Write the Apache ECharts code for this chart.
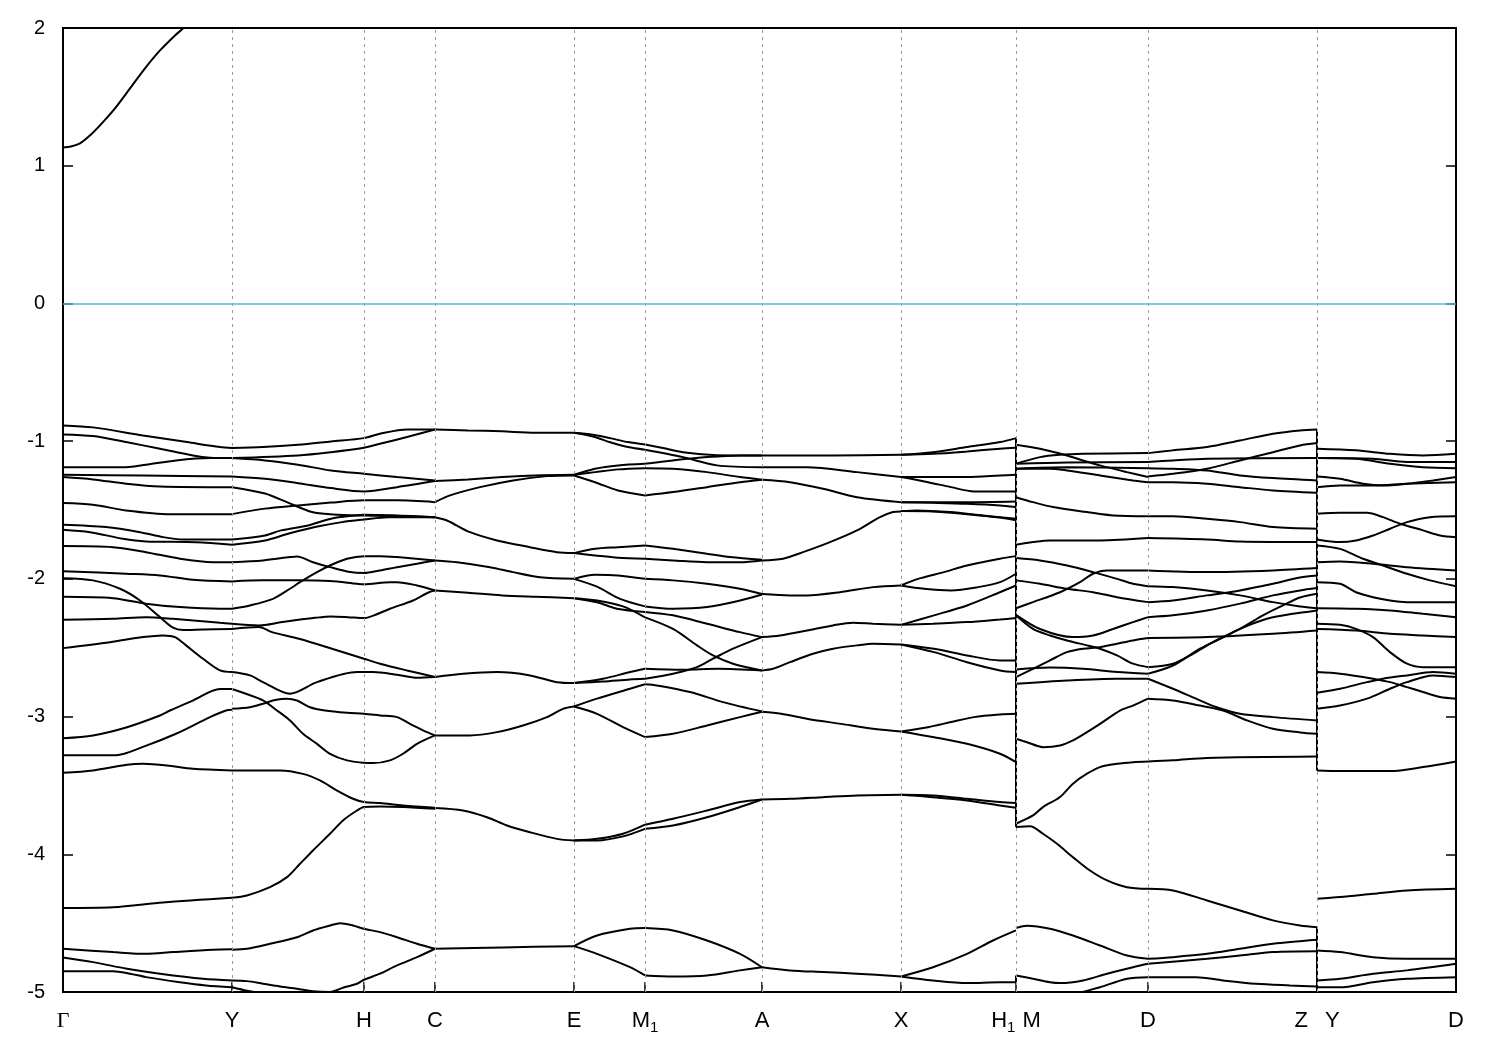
<!DOCTYPE html>
<html><head><meta charset="utf-8">
<script src="https://cdn.jsdelivr.net/npm/echarts@6/dist/echarts.min.js"></script>
<style>html,body{margin:0;padding:0;background:#fff}#c{width:1500px;height:1050px}</style>
</head><body><div id="c"></div>
<script>
// k-path positions of the high-symmetry points and their labels
const kTicks = [0,169,301,372,511,582,699,838,953,1085,1254,1393];
const kLabels = ['Γ','Y','H','C','E','M₁','A','X','H₁|M','D','Z|Y','D'];
const energyMin = -5, energyMax = 2, energyStep = 1;
const fermiLevel = 0;

// conduction band
const conduction = [[0,1.133],[8,1.14],[17,1.162],[27,1.22],[37,1.293],[52,1.416],[67,1.561],[82,1.707],[97,1.837],[112,1.946],[120,1.997],[135,2.12]];

// valence bands, segment Γ -> Y
const pathGY = [
 [[0,-0.886],[30,-0.90],[80,-0.959],[124,-1.007],[157,-1.043],[169,-1.05]],
 [[0,-0.951],[30,-0.963],[63,-1.007],[97,-1.055],[130,-1.104],[147,-1.12],[169,-1.123]],
 [[0,-1.189],[63,-1.189],[83,-1.171],[113,-1.14],[147,-1.123],[169,-1.123]],
 [[0,-1.244],[80,-1.25],[169,-1.256]],
 [[0,-1.261],[30,-1.278],[63,-1.309],[97,-1.329],[169,-1.334]],
 [[0,-1.45],[30,-1.462],[63,-1.503],[107,-1.53],[169,-1.53]],
 [[0,-1.607],[43,-1.624],[77,-1.661],[100,-1.697],[120,-1.714],[169,-1.714]],
 [[0,-1.643],[27,-1.661],[60,-1.709],[83,-1.728],[133,-1.734],[169,-1.752]],
 [[0,-1.762],[50,-1.77],[83,-1.806],[117,-1.854],[150,-1.879],[169,-1.879]],
 [[0,-1.944],[63,-1.963],[97,-1.975],[130,-2.007],[169,-2.019]],
 [[0,-1.995],[30,-2.011],[57,-2.072],[77,-2.157],[97,-2.278],[110,-2.355],[120,-2.372],[140,-2.368],[169,-2.364]],
 [[0,-2.13],[50,-2.14],[83,-2.18],[117,-2.205],[157,-2.217],[169,-2.217]],
 [[0,-2.297],[50,-2.29],[83,-2.278],[110,-2.29],[157,-2.319],[169,-2.326]],
 [[0,-2.503],[47,-2.46],[80,-2.423],[100,-2.411],[112,-2.423],[123,-2.483],[140,-2.58],[157,-2.665],[169,-2.677]],
 [[0,-3.157],[30,-3.137],[64,-3.077],[97,-2.992],[107,-2.956],[130,-2.883],[157,-2.80],[169,-2.80]],
 [[0,-3.28],[53,-3.28],[80,-3.22],[113,-3.125],[147,-3.004],[163,-2.956],[169,-2.951]],
 [[0,-3.408],[30,-3.391],[64,-3.35],[80,-3.343],[104,-3.355],[130,-3.379],[169,-3.391]],
 [[0,-4.39],[50,-4.385],[100,-4.35],[169,-4.316]],
 [[0,-4.686],[50,-4.71],[83,-4.723],[110,-4.71],[150,-4.693],[169,-4.69]],
 [[0,-4.75],[30,-4.783],[64,-4.831],[97,-4.867],[140,-4.904],[169,-4.916]],
 [[0,-4.849],[50,-4.849],[67,-4.867],[83,-4.892],[117,-4.929],[143,-4.952],[169,-4.965]]
];

// segment Y -> H -> C
const pathYC = [
 [[169,-1.05],[200,-1.043],[235,-1.026],[268,-1.002],[301,-0.978],[317,-0.946],[344,-0.915],[372,-0.915]],
 [[169,-1.123],[235,-1.104],[268,-1.08],[301,-1.048],[317,-1.019],[344,-0.97],[372,-0.915]],
 [[169,-1.123],[202,-1.14],[235,-1.171],[268,-1.213],[301,-1.237],[334,-1.261],[372,-1.285]],
 [[169,-1.256],[202,-1.273],[235,-1.305],[268,-1.341],[301,-1.365],[334,-1.334],[372,-1.29]],
 [[169,-1.334],[202,-1.38],[225,-1.446],[249,-1.515],[270,-1.532],[301,-1.54],[372,-1.552]],
 [[169,-1.53],[202,-1.49],[235,-1.467],[268,-1.446],[301,-1.43],[334,-1.43],[372,-1.443]],
 [[169,-1.714],[202,-1.685],[218,-1.648],[245,-1.612],[268,-1.563],[292,-1.54],[301,-1.535],[372,-1.552]],
 [[169,-1.752],[202,-1.721],[225,-1.673],[252,-1.624],[279,-1.588],[301,-1.569],[325,-1.552],[372,-1.552]],
 [[169,-1.879],[200,-1.866],[227,-1.842],[234,-1.837],[250,-1.879],[267,-1.915],[287,-1.951],[301,-1.958],[317,-1.939],[334,-1.915],[354,-1.89],[372,-1.866]],
 [[169,-2.019],[200,-2.011],[234,-2.011],[267,-2.016],[294,-2.036],[301,-2.04],[327,-2.024],[334,-2.024],[354,-2.048],[372,-2.084]],
 [[169,-2.217],[187,-2.193],[210,-2.145],[227,-2.072],[237,-2.024],[254,-1.951],[267,-1.903],[284,-1.854],[301,-1.835],[317,-1.835],[334,-1.842],[372,-1.866]],
 [[169,-2.326],[196,-2.338],[219,-2.314],[252,-2.283],[268,-2.273],[285,-2.278],[301,-2.285],[311,-2.265],[327,-2.217],[350,-2.157],[366,-2.097],[372,-2.085]],
 [[169,-2.364],[196,-2.35],[209,-2.387],[236,-2.435],[269,-2.507],[301,-2.58],[317,-2.616],[344,-2.665],[372,-2.713]],
 [[169,-2.677],[187,-2.701],[200,-2.75],[227,-2.834],[254,-2.75],[294,-2.677],[310,-2.677],[334,-2.696],[354,-2.718],[372,-2.713]],
 [[169,-2.80],[185,-2.84],[200,-2.883],[214,-2.956],[227,-3.028],[240,-3.125],[254,-3.198],[267,-3.27],[284,-3.318],[301,-3.336],[310,-3.338],[327,-3.318],[340,-3.27],[354,-3.198],[372,-3.137]],
 [[169,-2.944],[187,-2.932],[200,-2.907],[212,-2.88],[224,-2.87],[234,-2.883],[247,-2.932],[262,-2.956],[284,-2.973],[301,-2.98],[317,-2.992],[334,-3.004],[347,-3.053],[360,-3.1],[372,-3.137]],
 [[169,-3.391],[217,-3.391],[240,-3.416],[257,-3.464],[274,-3.537],[290,-3.597],[301,-3.621],[317,-3.628],[340,-3.645],[372,-3.662]],
 [[169,-4.316],[184,-4.299],[207,-4.239],[224,-4.166],[237,-4.069],[250,-3.972],[267,-3.851],[280,-3.754],[294,-3.682],[301,-3.657],[317,-3.653],[340,-3.657],[372,-3.67]],
 [[169,-4.693],[184,-4.686],[207,-4.65],[234,-4.602],[250,-4.553],[267,-4.517],[277,-4.5],[290,-4.517],[301,-4.541],[317,-4.565],[334,-4.602],[354,-4.65],[372,-4.686]],
 [[169,-4.916],[184,-4.921],[200,-4.94],[217,-4.96],[234,-4.976],[250,-4.994],[267,-5.0],[280,-4.969],[294,-4.94],[301,-4.911],[317,-4.867],[334,-4.807],[354,-4.747],[372,-4.686]],
 [[169,-4.965],[184,-4.99],[200,-5.01],[234,-5.04],[280,-5.05]]
];

// segment C -> E
const pathCE = [
 [[372,-0.915],[405,-0.922],[439,-0.929],[472,-0.939],[511,-0.939]],
 [[372,-1.29],[405,-1.278],[439,-1.261],[472,-1.249],[511,-1.244]],
 [[372,-1.443],[387,-1.394],[417,-1.334],[450,-1.285],[484,-1.254],[511,-1.249]],
 [[372,-1.552],[384,-1.576],[407,-1.661],[434,-1.721],[467,-1.77],[494,-1.806],[511,-1.813]],
 [[372,-1.866],[394,-1.879],[427,-1.915],[450,-1.951],[477,-1.988],[511,-2.0]],
 [[372,-2.085],[405,-2.101],[439,-2.12],[472,-2.13],[511,-2.14]],
 [[372,-2.713],[400,-2.689],[434,-2.677],[467,-2.701],[494,-2.75],[511,-2.756]],
 [[372,-3.137],[407,-3.137],[434,-3.113],[460,-3.065],[484,-3.004],[500,-2.944],[511,-2.927]],
 [[372,-3.664],[400,-3.682],[424,-3.731],[444,-3.791],[467,-3.84],[494,-3.888],[511,-3.9]],
 [[372,-4.686],[440,-4.676],[511,-4.667]]
];

// segment E -> M1
const pathEM = [
 [[511,-0.939],[530,-0.954],[548,-0.98],[565,-1.007],[582,-1.024]],
 [[511,-0.939],[530,-0.966],[548,-1.01],[565,-1.043],[582,-1.062]],
 [[511,-1.244],[532,-1.2],[555,-1.176],[582,-1.164]],
 [[511,-1.244],[532,-1.225],[555,-1.205],[582,-1.196]],
 [[511,-1.249],[532,-1.298],[555,-1.358],[582,-1.394]],
 [[511,-1.813],[532,-1.782],[555,-1.77],[582,-1.757]],
 [[511,-1.813],[532,-1.83],[555,-1.847],[582,-1.854]],
 [[511,-2.0],[532,-1.97],[555,-1.975],[582,-2.0]],
 [[511,-2.0],[534,-2.057],[557,-2.145],[582,-2.2]],
 [[511,-2.14],[534,-2.17],[554,-2.217],[582,-2.24]],
 [[511,-2.14],[534,-2.157],[560,-2.2],[582,-2.28]],
 [[511,-2.756],[540,-2.725],[567,-2.677],[582,-2.653]],
 [[511,-2.756],[540,-2.745],[567,-2.73],[582,-2.725]],
 [[511,-2.927],[534,-2.87],[567,-2.798],[582,-2.765]],
 [[511,-2.927],[534,-2.98],[560,-3.077],[582,-3.149]],
 [[511,-3.9],[534,-3.888],[560,-3.851],[582,-3.785]],
 [[511,-3.9],[534,-3.9],[560,-3.87],[582,-3.815]],
 [[511,-4.667],[534,-4.59],[567,-4.541],[582,-4.536]],
 [[511,-4.667],[534,-4.723],[567,-4.82],[582,-4.88]]
];

// segment M1 -> A
const pathMA = [
 [[582,-1.024],[600,-1.05],[620,-1.08],[650,-1.1],[699,-1.104]],
 [[582,-1.062],[620,-1.116],[654,-1.176],[699,-1.19]],
 [[582,-1.164],[610,-1.14],[644,-1.116],[677,-1.104],[699,-1.104]],
 [[582,-1.196],[610,-1.2],[644,-1.225],[677,-1.261],[699,-1.28]],
 [[582,-1.394],[610,-1.37],[644,-1.334],[677,-1.298],[699,-1.28]],
 [[582,-1.757],[610,-1.782],[644,-1.818],[667,-1.842],[699,-1.862]],
 [[582,-1.854],[610,-1.866],[644,-1.879],[677,-1.879],[699,-1.866]],
 [[582,-2.0],[610,-2.011],[644,-2.036],[677,-2.072],[699,-2.11]],
 [[582,-2.2],[610,-2.217],[644,-2.205],[677,-2.157],[699,-2.113]],
 [[582,-2.24],[610,-2.265],[644,-2.326],[677,-2.387],[699,-2.423]],
 [[582,-2.28],[610,-2.364],[634,-2.483],[650,-2.556],[670,-2.616],[699,-2.665]],
 [[582,-2.725],[610,-2.689],[634,-2.641],[650,-2.58],[670,-2.507],[699,-2.423]],
 [[582,-2.653],[620,-2.66],[655,-2.653],[699,-2.665]],
 [[582,-2.765],[594,-2.774],[627,-2.822],[660,-2.895],[699,-2.963]],
 [[582,-3.149],[610,-3.125],[644,-3.065],[677,-3.004],[699,-2.965]],
 [[582,-3.785],[610,-3.742],[644,-3.682],[677,-3.621],[699,-3.602]],
 [[582,-3.815],[610,-3.791],[644,-3.731],[677,-3.657],[699,-3.602]],
 [[582,-4.536],[610,-4.553],[644,-4.626],[677,-4.723],[699,-4.82]],
 [[582,-4.88],[610,-4.887],[644,-4.88],[677,-4.843],[699,-4.82]]
];

// segment A -> X
const pathAX = [
 [[699,-1.104],[770,-1.104],[838,-1.099]],
 [[699,-1.19],[744,-1.19],[794,-1.225],[838,-1.261]],
 [[699,-1.28],[727,-1.298],[760,-1.346],[794,-1.407],[838,-1.443]],
 [[699,-1.866],[720,-1.854],[740,-1.806],[767,-1.733],[794,-1.648],[817,-1.552],[830,-1.515],[838,-1.51]],
 [[699,-2.11],[727,-2.12],[744,-2.12],[777,-2.097],[810,-2.06],[838,-2.048]],
 [[699,-2.423],[717,-2.411],[744,-2.375],[770,-2.338],[790,-2.319],[810,-2.326],[838,-2.334]],
 [[699,-2.665],[710,-2.653],[727,-2.605],[750,-2.544],[770,-2.507],[794,-2.483],[810,-2.471],[838,-2.476]],
 [[699,-2.965],[718,-2.98],[745,-3.017],[778,-3.053],[812,-3.09],[838,-3.108]],
 [[699,-3.602],[727,-3.597],[760,-3.585],[794,-3.573],[838,-3.568]],
 [[699,-4.82],[727,-4.843],[760,-4.855],[794,-4.867],[838,-4.887]]
];

// segment X -> H1
const pathXH = [
 [[838,-1.099],[870,-1.08],[904,-1.043],[937,-1.007],[953,-0.978]],
 [[838,-1.099],[870,-1.092],[904,-1.075],[937,-1.055],[953,-1.048]],
 [[838,-1.261],[904,-1.261],[937,-1.25],[953,-1.244]],
 [[838,-1.261],[865,-1.298],[888,-1.334],[911,-1.365],[953,-1.365]],
 [[838,-1.443],[870,-1.448],[904,-1.455],[937,-1.467],[953,-1.479]],
 [[838,-1.443],[904,-1.443],[953,-1.438]],
 [[838,-1.508],[854,-1.503],[887,-1.515],[920,-1.54],[953,-1.564]],
 [[838,-1.508],[870,-1.51],[904,-1.53],[937,-1.555],[953,-1.575]],
 [[838,-2.048],[855,-2.0],[881,-1.951],[904,-1.903],[937,-1.854],[953,-1.835]],
 [[838,-2.048],[861,-2.072],[888,-2.084],[915,-2.06],[937,-2.024],[953,-1.963]],
 [[838,-2.334],[870,-2.326],[904,-2.314],[937,-2.295],[953,-2.285]],
 [[838,-2.334],[871,-2.265],[904,-2.193],[937,-2.097],[953,-2.048]],
 [[838,-2.476],[871,-2.507],[904,-2.556],[937,-2.592],[953,-2.592]],
 [[838,-2.476],[871,-2.532],[904,-2.605],[937,-2.665],[953,-2.677]],
 [[838,-3.108],[865,-3.077],[888,-3.04],[911,-3.004],[937,-2.985],[953,-2.98]],
 [[838,-3.108],[871,-3.15],[904,-3.198],[937,-3.27],[953,-3.331]],
 [[838,-3.568],[870,-3.573],[904,-3.597],[937,-3.621],[953,-3.628]],
 [[838,-3.568],[870,-3.585],[904,-3.609],[937,-3.645],[953,-3.662]],
 [[838,-4.887],[870,-4.82],[904,-4.723],[930,-4.626],[953,-4.553]],
 [[838,-4.887],[870,-4.916],[904,-4.935],[937,-4.929],[953,-4.929]]
];

// segment M -> D
const pathMD = [
 [[953,-1.026],[977,-1.055],[1004,-1.104],[1020,-1.14],[1037,-1.176],[1064,-1.225],[1085,-1.261]],
 [[953,-1.164],[977,-1.116],[997,-1.099],[1020,-1.092],[1085,-1.087]],
 [[953,-1.2],[987,-1.2],[1004,-1.213],[1037,-1.249],[1070,-1.285],[1085,-1.298]],
 [[953,-1.2],[1004,-1.19],[1085,-1.196]],
 [[953,-1.164],[1004,-1.155],[1085,-1.152]],
 [[953,-1.407],[970,-1.443],[990,-1.479],[1024,-1.515],[1050,-1.54],[1085,-1.545]],
 [[953,-1.752],[970,-1.733],[987,-1.721],[1037,-1.721],[1085,-1.704]],
 [[953,-1.849],[977,-1.866],[1004,-1.903],[1030,-1.951],[1054,-2.0],[1070,-2.036],[1085,-2.053]],
 [[953,-2.011],[977,-2.036],[1004,-2.072],[1030,-2.097],[1054,-2.133],[1085,-2.169]],
 [[953,-2.213],[970,-2.169],[997,-2.097],[1017,-2.024],[1030,-1.963],[1044,-1.939],[1085,-1.939]],
 [[953,-2.261],[977,-2.364],[1010,-2.423],[1030,-2.411],[1050,-2.364],[1070,-2.314],[1085,-2.278]],
 [[953,-2.265],[970,-2.364],[987,-2.411],[1004,-2.447],[1024,-2.483],[1037,-2.507],[1054,-2.556],[1070,-2.616],[1085,-2.641]],
 [[953,-2.713],[970,-2.653],[987,-2.592],[1004,-2.532],[1020,-2.507],[1037,-2.496],[1054,-2.471],[1070,-2.447],[1085,-2.43]],
 [[953,-2.658],[987,-2.644],[1020,-2.653],[1054,-2.677],[1085,-2.689]],
 [[953,-2.762],[1004,-2.738],[1054,-2.725],[1085,-2.725]],
 [[953,-3.161],[964,-3.186],[980,-3.222],[997,-3.21],[1010,-3.173],[1024,-3.113],[1037,-3.053],[1057,-2.956],[1070,-2.92],[1085,-2.87]],
 [[953,-3.778],[970,-3.718],[980,-3.657],[997,-3.584],[1010,-3.487],[1024,-3.415],[1037,-3.367],[1054,-3.343],[1070,-3.331],[1085,-3.326]],
 [[953,-3.802],[967,-3.797],[980,-3.851],[994,-3.924],[1010,-4.021],[1027,-4.118],[1044,-4.19],[1064,-4.239],[1085,-4.251]],
 [[953,-4.536],[964,-4.519],[987,-4.541],[1010,-4.59],[1037,-4.662],[1064,-4.735],[1085,-4.759]],
 [[953,-4.88],[970,-4.904],[987,-4.929],[997,-4.935],[1020,-4.916],[1044,-4.867],[1070,-4.82],[1085,-4.795]],
 [[1014,-5.02],[1020,-5.0],[1037,-4.965],[1064,-4.904],[1085,-4.892]]
];

// segment D -> Z
const pathDZ = [
 [[1085,-1.087],[1110,-1.067],[1144,-1.043],[1177,-0.995],[1210,-0.946],[1237,-0.922],[1254,-0.915]],
 [[1085,-1.256],[1110,-1.237],[1144,-1.2],[1177,-1.14],[1210,-1.08],[1237,-1.031],[1254,-1.014]],
 [[1085,-1.152],[1110,-1.14],[1144,-1.128],[1254,-1.123]],
 [[1085,-1.196],[1110,-1.2],[1144,-1.213],[1177,-1.249],[1210,-1.268],[1254,-1.285]],
 [[1085,-1.298],[1110,-1.298],[1144,-1.309],[1177,-1.334],[1210,-1.358],[1254,-1.375]],
 [[1085,-1.545],[1110,-1.545],[1144,-1.564],[1177,-1.588],[1210,-1.624],[1254,-1.636]],
 [[1085,-1.704],[1144,-1.714],[1177,-1.728],[1254,-1.733]],
 [[1085,-1.939],[1144,-1.951],[1210,-1.939],[1254,-1.922]],
 [[1085,-2.053],[1110,-2.06],[1144,-2.084],[1177,-2.12],[1210,-2.169],[1237,-2.2],[1254,-2.213]],
 [[1085,-2.169],[1110,-2.157],[1144,-2.12],[1177,-2.084],[1210,-2.036],[1237,-1.99],[1254,-1.975]],
 [[1085,-2.278],[1110,-2.265],[1144,-2.229],[1177,-2.18],[1210,-2.12],[1237,-2.084],[1254,-2.067]],
 [[1085,-2.43],[1144,-2.423],[1210,-2.399],[1254,-2.375]],
 [[1085,-2.641],[1110,-2.616],[1130,-2.544],[1150,-2.46],[1177,-2.363],[1200,-2.265],[1220,-2.193],[1237,-2.135],[1254,-2.108]],
 [[1085,-2.689],[1110,-2.629],[1137,-2.507],[1157,-2.435],[1177,-2.363],[1204,-2.29],[1230,-2.254],[1254,-2.229]],
 [[1085,-2.725],[1110,-2.798],[1133,-2.87],[1153,-2.931],[1177,-2.98],[1210,-3.004],[1254,-3.028]],
 [[1085,-2.87],[1110,-2.883],[1137,-2.92],[1160,-2.956],[1184,-3.028],[1210,-3.089],[1237,-3.115],[1254,-3.125]],
 [[1085,-3.326],[1110,-3.318],[1144,-3.3],[1254,-3.29]],
 [[1085,-4.251],[1110,-4.263],[1144,-4.335],[1177,-4.408],[1210,-4.48],[1237,-4.517],[1254,-4.529]],
 [[1085,-4.759],[1110,-4.747],[1144,-4.723],[1177,-4.686],[1210,-4.65],[1254,-4.621]],
 [[1085,-4.795],[1144,-4.759],[1177,-4.735],[1210,-4.71],[1254,-4.704]],
 [[1085,-4.892],[1133,-4.892],[1160,-4.916],[1193,-4.94],[1227,-4.952],[1254,-4.96]]
];

// segment Y -> D
const pathYD = [
 [[1254,-1.055],[1293,-1.067],[1327,-1.092],[1360,-1.104],[1393,-1.092]],
 [[1254,-1.123],[1310,-1.128],[1344,-1.152],[1393,-1.152]],
 [[1254,-1.123],[1293,-1.128],[1327,-1.164],[1360,-1.19],[1393,-1.196]],
 [[1254,-1.256],[1277,-1.273],[1300,-1.309],[1320,-1.322],[1344,-1.309],[1370,-1.285],[1393,-1.261]],
 [[1254,-1.334],[1277,-1.322],[1310,-1.322],[1344,-1.309],[1393,-1.298]],
 [[1254,-1.527],[1277,-1.52],[1304,-1.52],[1320,-1.552],[1337,-1.6],[1360,-1.648],[1377,-1.685],[1393,-1.697]],
 [[1254,-1.714],[1277,-1.733],[1293,-1.721],[1310,-1.685],[1327,-1.636],[1344,-1.588],[1367,-1.552],[1393,-1.545]],
 [[1254,-1.757],[1277,-1.782],[1300,-1.854],[1320,-1.903],[1344,-1.963],[1367,-2.011],[1393,-2.053]],
 [[1254,-1.879],[1277,-1.874],[1310,-1.89],[1344,-1.915],[1393,-1.939]],
 [[1254,-2.024],[1277,-2.036],[1293,-2.097],[1310,-2.133],[1327,-2.157],[1344,-2.169],[1393,-2.169]],
 [[1254,-2.213],[1293,-2.217],[1327,-2.229],[1360,-2.254],[1393,-2.278]],
 [[1254,-2.326],[1277,-2.334],[1293,-2.363],[1310,-2.423],[1327,-2.532],[1344,-2.616],[1360,-2.641],[1393,-2.641]],
 [[1254,-2.364],[1293,-2.375],[1327,-2.399],[1360,-2.411],[1393,-2.423]],
 [[1254,-2.677],[1277,-2.689],[1310,-2.725],[1327,-2.75],[1344,-2.786],[1360,-2.822],[1377,-2.858],[1393,-2.87]],
 [[1254,-2.827],[1277,-2.798],[1304,-2.75],[1320,-2.725],[1344,-2.701],[1370,-2.677],[1393,-2.689]],
 [[1254,-2.943],[1277,-2.92],[1304,-2.87],[1327,-2.798],[1344,-2.75],[1370,-2.701],[1393,-2.713]],
 [[1254,-3.391],[1277,-3.396],[1327,-3.396],[1360,-3.367],[1393,-3.326]],
 [[1254,-4.323],[1277,-4.311],[1310,-4.287],[1344,-4.263],[1393,-4.251]],
 [[1254,-4.698],[1277,-4.71],[1310,-4.747],[1344,-4.759],[1393,-4.759]],
 [[1254,-4.916],[1277,-4.904],[1310,-4.867],[1344,-4.843],[1393,-4.795]],
 [[1254,-4.966],[1277,-4.966],[1310,-4.929],[1344,-4.904],[1393,-4.892]]
];

// vertical jumps at the path discontinuities: [k, fromE, toE]
const jumps = [[953,-0.978,-3.802],[953,-4.88,-4.929],[1254,-0.915,-3.391],[1254,-4.529,-5.0]];

const chart = echarts.init(document.getElementById('c'), null, {renderer:'canvas'});
const bandStyle = {color:'#000', width:2};
const series = [];
function addGroup(group){
  group.forEach(pts => series.push({type:'line', data:pts, showSymbol:false, symbol:'none', smooth:0.3,
    lineStyle:bandStyle, z:3, silent:true, animation:false, clip:true}));
}
[pathGY, pathYC, pathCE, pathEM, pathMA, pathAX, pathXH, pathMD, pathDZ, pathYD, [conduction]].forEach(addGroup);
jumps.forEach(j => series.push({type:'line', data:[[j[0],j[1]],[j[0],j[2]]], showSymbol:false, symbol:'none',
  lineStyle:bandStyle, z:3, silent:true, animation:false}));
series.push({type:'line', data:[[0,-10]], showSymbol:false, symbol:'none', lineStyle:{opacity:0}, z:1, silent:true, animation:false,
  markLine:{silent:true, symbol:'none', animation:false, label:{show:false},
    data: kTicks.slice(1,-1).map(v => ({xAxis:v, lineStyle:{type:[3,4], color:'#9a9a9a', width:1}}))
      .concat([{yAxis:fermiLevel, lineStyle:{type:'solid', color:'#56b4e9', width:1.5}}])}});

function tickLabel(v){
  const lab = kLabels[kTicks.indexOf(v)];
  if (lab === undefined) return '';
  if (lab === 'Γ') return '{g|Γ}';
  if (lab === 'M₁') return '{t|M}{s|1}';
  if (lab === 'H₁|M') return '{t|H}{s|1}{gap1| }{t|M}';
  if (lab === 'Z|Y') return '{t|Z}{gap2| }{t|Y}';
  return '{t|' + lab + '}';
}
const FONT = 'Liberation Sans';
chart.setOption({
  animation:false,
  backgroundColor:'#fff',
  grid:{left:63, right:44, top:28, bottom:58, show:true, borderColor:'#000', borderWidth:2, backgroundColor:'transparent'},
  xAxis:[{type:'value', min:kTicks[0], max:kTicks[kTicks.length-1], position:'bottom',
    axisLine:{show:true, onZero:false, lineStyle:{color:'#000', width:2}},
    axisTick:{show:true, inside:true, length:10, customValues:kTicks, lineStyle:{color:'#000', width:1.5}},
    axisLabel:{show:true, customValues:kTicks, formatter:tickLabel, margin:18, hideOverlap:false,
      rich:{
        t:{fontSize:22, fontFamily:FONT, color:'#000', verticalAlign:'top', lineHeight:24},
        s:{fontSize:15, fontFamily:FONT, color:'#000', verticalAlign:'top', lineHeight:17, padding:[10,0,0,0]},
        g:{fontSize:22, fontFamily:'Liberation Serif', color:'#000', verticalAlign:'top', lineHeight:24},
        gap1:{width:7, fontSize:22, verticalAlign:'top', lineHeight:24},
        gap2:{width:17, fontSize:22, verticalAlign:'top', lineHeight:24}
      }},
    splitLine:{show:false}}],
  yAxis:[
    {type:'value', min:energyMin, max:energyMax, interval:energyStep, position:'left',
     axisLine:{show:true, onZero:false, lineStyle:{color:'#000', width:2}},
     axisTick:{show:true, inside:true, length:10, lineStyle:{color:'#000', width:1.5}},
     axisLabel:{color:'#000', fontSize:20, fontFamily:FONT, margin:18},
     splitLine:{show:false}},
    {type:'value', min:energyMin, max:energyMax, interval:energyStep, position:'right',
     axisLine:{show:true, onZero:false, lineStyle:{color:'#000', width:2}},
     axisTick:{show:true, inside:true, length:10, lineStyle:{color:'#000', width:1.5}},
     axisLabel:{show:false}, splitLine:{show:false}}
  ],
  series: series
});
</script>
</body></html>
